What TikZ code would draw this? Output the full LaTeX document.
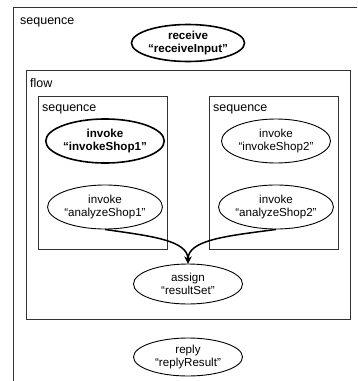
\documentclass[tikz,border=0pt]{standalone}
\usepackage{fontspec}
\setmainfont{Liberation Sans}
\usetikzlibrary{shapes.geometric,arrows.meta}
\tikzset{
  act/.style={ellipse, draw=black, line width=0.9pt, minimum width=109pt, minimum height=40pt, inner sep=0pt, align=center, font=\fontsize{11.6}{13.5}\selectfont},
  actbold/.style={act, line width=1.6pt, font=\fontsize{11.6}{13.5}\selectfont\bfseries},
  box/.style={draw=black!80, line width=0.9pt},
  lbl/.style={anchor=base west, inner sep=0pt, font=\fontsize{12.5}{13.5}\selectfont},
  flowarrow/.style={line width=1.5pt, -{Stealth[length=7pt,width=7pt]}}
}
\begin{document}
\begin{tikzpicture}[x=1pt,y=-1pt]
\useasboundingbox (0,0) rectangle (357,381);
\clip (0,0) rectangle (357,381);
% outer sequence box (extends beyond the frame)
\draw[box] (13,7) rectangle (380,400);
\node[lbl] (lseq) at (20,24) {sequence};
% flow box
\draw[box] (26,70) rectangle (350,319);
\node[lbl] (lflow) at (30,87) {flow};
% inner sequence boxes
\draw[box] (38,96) rectangle (167,249);
\node[lbl] (lseq1) at (42,111) {sequence};
\draw[box] (209,96) rectangle (338,249);
\node[lbl] (lseq2) at (213,111) {sequence};
% activities
\node[actbold, minimum height=37pt] (recv) at (188,43) {receive\\“receiveInput”};
\node[actbold, minimum height=44pt] (inv1) at (105,141) {invoke\\“invokeShop1”};
\node[act, minimum height=44pt] (ana1) at (105,207) {invoke\\“analyzeShop1”};
\node[act, minimum height=44pt] (inv2) at (276,141) {invoke\\“invokeShop2”};
\node[act, minimum height=44pt] (ana2) at (276,207) {invoke\\“analyzeShop2”};
\node[act, minimum height=40pt] (asg) at (188,284) {assign\\“resultSet”};
\node[act, minimum height=38pt] (rep) at (188,357) {reply\\“replyResult”};
% connectors
\draw[flowarrow] (ana1.south) .. controls (150,236) and (188,240) .. (asg.north);
\draw[flowarrow] (ana2.south) .. controls (226,236) and (188,240) .. (asg.north);
\end{tikzpicture}
\end{document}
